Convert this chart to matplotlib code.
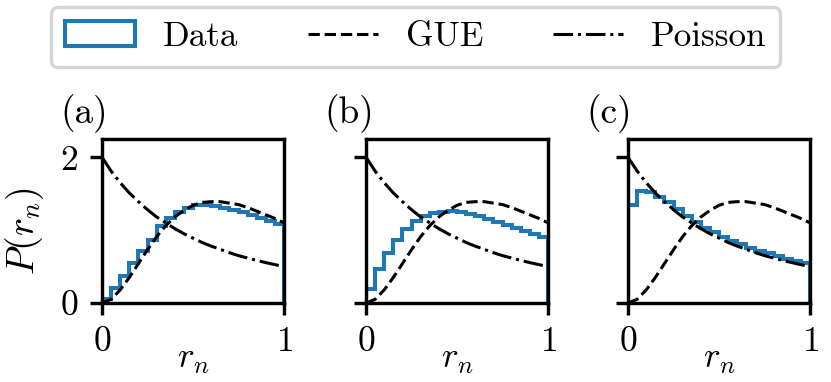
import matplotlib
matplotlib.use("Agg")
import matplotlib.pyplot as plt

# r grid used for the histogram bin edges and the theory curves
r_grid = [0.00, 0.05, 0.10, 0.15, 0.20, 0.25, 0.30, 0.35, 0.40, 0.45, 0.50,
          0.55, 0.60, 0.65, 0.70, 0.75, 0.80, 0.85, 0.90, 0.95, 1.00]

gue_curve = [0.00, 0.05, 0.18, 0.35, 0.54, 0.73, 0.91, 1.06, 1.18, 1.27, 1.34,
             1.38, 1.39, 1.39, 1.37, 1.35, 1.31, 1.26, 1.21, 1.16, 1.10]
poisson_curve = [2.00, 1.81, 1.65, 1.51, 1.39, 1.28, 1.18, 1.10, 1.02, 0.95, 0.89,
                 0.83, 0.78, 0.735, 0.69, 0.65, 0.617, 0.584, 0.554, 0.526, 0.50]

hist_a = [0.06, 0.20, 0.37, 0.55, 0.71, 0.87, 1.05, 1.17, 1.25, 1.31,
          1.34, 1.35, 1.33, 1.31, 1.28, 1.25, 1.21, 1.17, 1.12, 1.09]
hist_b = [0.19, 0.47, 0.69, 0.87, 1.01, 1.12, 1.19, 1.23, 1.25, 1.26,
          1.25, 1.22, 1.19, 1.15, 1.11, 1.07, 1.03, 0.99, 0.95, 0.90]
hist_c = [1.35, 1.54, 1.52, 1.46, 1.38, 1.29, 1.19, 1.11, 1.035, 0.97,
          0.91, 0.855, 0.81, 0.76, 0.72, 0.68, 0.64, 0.61, 0.58, 0.555]

panels = ["(a)", "(b)", "(c)"]
histograms = [hist_a, hist_b, hist_c]

plt.rcParams["font.family"] = "serif"
plt.rcParams["font.serif"] = ["cmr10"]
plt.rcParams["mathtext.fontset"] = "cm"
plt.rcParams["axes.formatter.use_mathtext"] = True
plt.rcParams["font.size"] = 10.5
plt.rcParams["axes.linewidth"] = 1.0
plt.rcParams["xtick.major.width"] = 1.0
plt.rcParams["ytick.major.width"] = 1.0

fig = plt.figure(figsize=(3.4, 1.563), dpi=244.42)

W, H = 831.0, 382.0
lefts = [102, 366, 628]
ax_w, ax_top, ax_bot = 182, 139, 303

for i, (lab, hv) in enumerate(zip(panels, histograms)):
    ax = fig.add_axes([lefts[i] / W, (H - ax_bot) / H, ax_w / W, (ax_bot - ax_top) / H])
    ax.hist(r_grid[:-1], bins=r_grid, weights=hv, histtype="step",
            color="#1f77b4", lw=1.2, label="Data")
    ax.plot(r_grid, gue_curve, "k--", lw=0.9, label="GUE")
    ax.plot(r_grid, poisson_curve, "k-.", lw=0.9, label="Poisson")
    ax.set_xlim(0, 1)
    ax.set_ylim(0, 2.25)
    ax.set_xticks([0, 1])
    ax.set_yticks([0, 2])
    if i > 0:
        ax.set_yticklabels([])
    else:
        ax.set_ylabel("$P(r_n)$", fontsize=11.2)
        ax.yaxis.set_label_coords(-0.31, 0.44)
    ax.set_xlabel("$r_n$")
    ax.xaxis.set_label_coords(0.5, -0.25)
    ax.text(-0.23, 1.1, lab, transform=ax.transAxes, va="baseline", ha="left",
            fontsize=11)
    if i == 0:
        handles, labels = ax.get_legend_handles_labels()

fig.legend(handles, labels, loc="center", ncol=3, fontsize=10.3,
           bbox_to_anchor=(0.5, 1 - 37 / H))

fig.savefig("out.png", dpi=244.42)
